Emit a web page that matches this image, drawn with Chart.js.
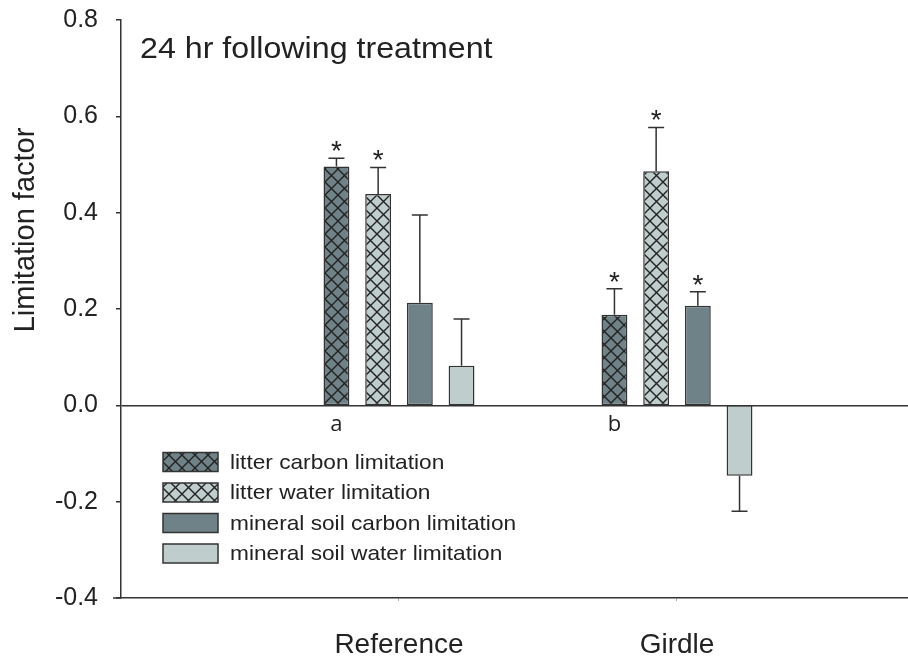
<!DOCTYPE html>
<html>
<head>
<meta charset="utf-8">
<script src="https://cdn.jsdelivr.net/npm/chart.js@4.4.1/dist/chart.umd.min.js"></script>
<style>
  html, body { margin: 0; padding: 0; background: #fff; }
  #wrap { width: 908px; height: 657px; position: relative; }
</style>
</head>
<body>
<div id="wrap"><canvas id="chart"></canvas></div>
<script>
// data
const categories = ['Reference', 'Girdle'];
const groupLetters = ['a', 'b'];
const seriesNames = ['litter carbon limitation', 'litter water limitation',
                     'mineral soil carbon limitation', 'mineral soil water limitation'];

const litterCarbon  = [0.496, 0.188];
const litterWater   = [0.439, 0.486];
const mineralCarbon = [0.213, 0.207];
const mineralWater  = [0.082, -0.146];

// one-sided standard errors
const litterCarbonErr  = [0.017, 0.054];
const litterWaterErr   = [0.055, 0.091];
const mineralCarbonErr = [0.182, 0.029];
const mineralWaterErr  = [0.097, 0.074];

// significance asterisks
const litterCarbonStar  = [true, true];
const litterWaterStar   = [true, true];
const mineralCarbonStar = [false, true];
const mineralWaterStar  = [false, false];

const yMin = -0.4, yMax = 0.8, yStep = 0.2;
const panelTitle = '24 hr following treatment';
const yTitle = 'Limitation factor';

const darkFill = '#6f8288';
const lightFill = '#c0cdcd';
const edge = '#333333';

// crosshatch fill
function hatch(bg, size) {
  const c = document.createElement('canvas');
  c.width = size; c.height = size;
  const g = c.getContext('2d');
  g.fillStyle = bg;
  g.fillRect(0, 0, size, size);
  g.strokeStyle = '#222';
  g.lineWidth = 1.4;
  g.beginPath();
  g.moveTo(-1, -1); g.lineTo(size + 1, size + 1);
  g.moveTo(size + 1, -1); g.lineTo(-1, size + 1);
  g.stroke();
  return g.createPattern(c, 'repeat');
}

function makeSet(i, values, err, star, fill) {
  return {
    label: seriesNames[i],
    data: values.map((v, k) => ({ x: k + 1, y: v })),
    err: err,
    star: star,
    backgroundColor: fill,
    borderColor: edge,
    borderWidth: 1.5,
    borderSkipped: false,
    categoryPercentage: 0.6,
    barPercentage: 0.62
  };
}

const datasets = [
  makeSet(0, litterCarbon, litterCarbonErr, litterCarbonStar, hatch(darkFill, 13)),
  makeSet(1, litterWater, litterWaterErr, litterWaterStar, hatch(lightFill, 13)),
  makeSet(2, mineralCarbon, mineralCarbonErr, mineralCarbonStar, darkFill),
  makeSet(3, mineralWater, mineralWaterErr, mineralWaterStar, lightFill)
];

// error bars + asterisks
const errorBars = {
  id: 'errorBars',
  afterDatasetsDraw(chart) {
    const ctx = chart.ctx, y = chart.scales.y;
    chart.data.datasets.forEach((ds, di) => {
      const meta = chart.getDatasetMeta(di);
      meta.data.forEach((bar, i) => {
        const v = ds.data[i].y;
        const yEnd = y.getPixelForValue(v + Math.sign(v) * ds.err[i]);
        ctx.save();
        ctx.strokeStyle = edge;
        ctx.lineWidth = 1.5;
        ctx.beginPath();
        ctx.moveTo(bar.x, bar.y);
        ctx.lineTo(bar.x, yEnd);
        ctx.moveTo(bar.x - 8, yEnd);
        ctx.lineTo(bar.x + 8, yEnd);
        ctx.stroke();
        if (ds.star[i]) {
          ctx.fillStyle = '#222';
          ctx.font = '28px "Liberation Sans", Arial, sans-serif';
          ctx.textAlign = 'center';
          ctx.textBaseline = 'alphabetic';
          ctx.fillText('*', bar.x, yEnd + 2);
        }
        ctx.restore();
      });
    });
  }
};

// panel title, y title, group letters and legend
const decorations = {
  id: 'decorations',
  afterDraw(chart) {
    const ctx = chart.ctx, a = chart.chartArea, y = chart.scales.y;
    ctx.save();
    ctx.fillStyle = '#222';

    // panel title (slightly stretched like the original)
    ctx.font = '29px "Liberation Sans", Arial, sans-serif';
    ctx.textAlign = 'left';
    ctx.textBaseline = 'alphabetic';
    ctx.save();
    ctx.translate(a.left + 19, a.top + 38);
    ctx.scale(1.11, 1);
    ctx.fillText(panelTitle, 0, 0);
    ctx.restore();

    // y title
    ctx.save();
    ctx.translate(26, 230);
    ctx.rotate(-Math.PI / 2);
    ctx.textAlign = 'center';
    ctx.textBaseline = 'middle';
    ctx.font = '29px "Liberation Sans", Arial, sans-serif';
    ctx.fillText(yTitle, 0, 0);
    ctx.restore();

    // group letters under the first bar of each group
    const first = chart.getDatasetMeta(0);
    ctx.font = '22px "Open Sans", "DejaVu Sans", sans-serif';
    ctx.textAlign = 'center';
    ctx.textBaseline = 'alphabetic';
    first.data.forEach((bar, i) => {
      ctx.fillText(groupLetters[i], bar.x, y.getPixelForValue(0) + 26);
    });

    // legend
    const bx = a.left + 42, bw = 55, bh = 19, rowH = 30.5;
    chart.data.datasets.forEach((ds, i) => {
      const cy = a.top + 442 + i * rowH;
      ctx.fillStyle = ds.backgroundColor;
      ctx.fillRect(bx, cy - bh / 2, bw, bh);
      ctx.strokeStyle = edge;
      ctx.lineWidth = 1.5;
      ctx.strokeRect(bx, cy - bh / 2, bw, bh);
      ctx.fillStyle = '#222';
      ctx.font = '21px "Liberation Sans", Arial, sans-serif';
      ctx.textAlign = 'left';
      ctx.textBaseline = 'middle';
      ctx.save();
      ctx.translate(bx + 67, cy + 1);
      ctx.scale(1.08, 1);
      ctx.fillText(ds.label, 0, 0);
      ctx.restore();
    });

    // x axis line runs a little past the y axis
    ctx.strokeStyle = edge;
    ctx.lineWidth = 1.5;
    ctx.beginPath();
    ctx.moveTo(a.left - 8, a.bottom);
    ctx.lineTo(a.left, a.bottom);
    ctx.stroke();
    ctx.restore();
  }
};

new Chart(document.getElementById('chart'), {
  type: 'bar',
  data: { datasets: datasets },
  plugins: [errorBars, decorations],
  options: {
    responsive: true,
    maintainAspectRatio: false,
    animation: false,
    layout: { padding: { top: 20, right: 0, bottom: 0, left: 0 } },
    plugins: {
      legend: { display: false },
      tooltip: { enabled: false }
    },
    scales: {
      x: {
        type: 'linear',
        offset: false,
        min: 0,
        max: 2.831,
        afterBuildTicks: (axis) => { axis.ticks = categories.map((c, i) => ({ value: i + 1 })); },
        afterFit: (axis) => { axis.height = 59; },
        border: { display: true, color: edge, width: 1.5 },
        grid: { display: true, offset: false, drawOnChartArea: false, color: '#aaa', tickLength: 3 },
        ticks: {
          callback: (v) => categories[v - 1],
          color: '#222',
          font: { family: '"Liberation Sans", Arial, sans-serif', size: 28 },
          padding: 27,
          maxRotation: 0
        }
      },
      y: {
        min: yMin,
        max: yMax,
        afterFit: (axis) => {
          axis.width = 121;
          // tick labels may overflow into the top padding, like the original
          axis.paddingTop = 0;
          axis.paddingBottom = 0;
        },
        border: { display: true, color: edge, width: 1.5 },
        grid: {
          color: (c) => (c.tick && Math.abs(c.tick.value) < 1e-9 ? edge : 'rgba(0,0,0,0)'),
          tickColor: edge,
          lineWidth: 1.5,
          tickLength: 5
        },
        ticks: {
          stepSize: yStep,
          callback: (v) => v.toFixed(1),
          color: '#222',
          font: { family: '"Liberation Sans", Arial, sans-serif', size: 25 },
          padding: 18
        }
      }
    }
  }
});
</script>
</body>
</html>
